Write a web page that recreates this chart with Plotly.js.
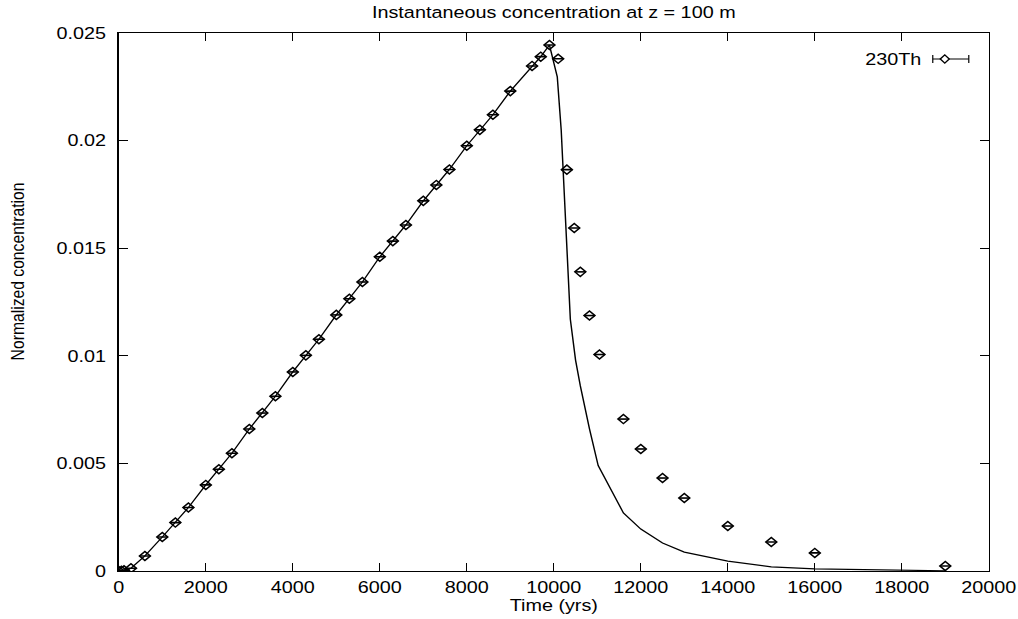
<!DOCTYPE html>
<html>
<head>
<meta charset="utf-8">
<script src="https://cdn.plot.ly/plotly-3.0.1.min.js"></script>
<style>
  html, body { margin: 0; padding: 0; background: #fff; overflow: hidden; }
  #wrap { width: 1018px; height: 619px; overflow: hidden; }
  #plot { width: 848px; height: 619px; transform: scaleX(1.2); transform-origin: 0 0; }
</style>
</head>
<body>
<div id="wrap"><div id="plot"></div></div>
<script>
// Observed (230Th) points: time in years, normalized concentration
const obsTime = [0, 60, 120, 280, 600, 1000, 1300, 1600, 2000, 2300, 2600, 3000, 3300, 3600,
  4000, 4300, 4600, 5000, 5300, 5600, 6000, 6300, 6600, 7000, 7300, 7600, 8000, 8300, 8600,
  9000, 9500, 9700, 9900, 10100, 10300, 10470, 10610, 10820, 11050, 11600, 12000, 12500,
  13000, 14000, 15000, 16000, 19000];
const obsConc = [0, 0.00001, 0.00003, 0.00013, 0.0007, 0.00158, 0.00225, 0.00295, 0.0040,
  0.00473, 0.00547, 0.0066, 0.00734, 0.00812, 0.00925, 0.01002, 0.01077, 0.0119, 0.01265,
  0.01343, 0.0146, 0.01533, 0.01608, 0.0172, 0.01794, 0.01866, 0.01976, 0.0205, 0.0212,
  0.0223, 0.02347, 0.0239, 0.02444, 0.0238, 0.01865, 0.01594, 0.0139, 0.01187, 0.01006,
  0.00706, 0.00567, 0.00432, 0.00339, 0.00209, 0.00135, 0.00084, 0.00023];

// Model curve
const modelTime = [0, 60, 120, 280, 600, 1000, 1300, 1600, 2000, 2300, 2600, 3000, 3300, 3600,
  4000, 4300, 4600, 5000, 5300, 5600, 6000, 6300, 6600, 7000, 7300, 7600, 8000, 8300, 8600,
  9000, 9500, 9700, 9900, 10080, 10170, 10220, 10290, 10380, 10500, 10610, 10820, 11020,
  11600, 12000, 12500, 13000, 14000, 15000, 16000, 19000];
const modelConc = [0, 0.00001, 0.00003, 0.00013, 0.0007, 0.00158, 0.00225, 0.00295, 0.0040,
  0.00473, 0.00547, 0.0066, 0.00734, 0.00812, 0.00925, 0.01002, 0.01077, 0.0119, 0.01265,
  0.01343, 0.0146, 0.01533, 0.01608, 0.0172, 0.01794, 0.01866, 0.01976, 0.0205, 0.0212,
  0.0223, 0.02347, 0.0239, 0.02444, 0.02296, 0.0205, 0.0182, 0.0158, 0.0117, 0.0098,
  0.0086, 0.0066, 0.0049, 0.0027, 0.00195, 0.0013, 0.00088, 0.00046, 0.00019, 0.0001, 0.00001];

const xTicks = [0, 2000, 4000, 6000, 8000, 10000, 12000, 14000, 16000, 18000, 20000];
const xTickText = ['0', '2000', '4000', '6000', '8000', '10000', '12000', '14000', '16000', '18000', '20000'];
const yTicks = [0, 0.005, 0.01, 0.015, 0.02, 0.025];
const yTickText = ['0', '0.005', '0.01', '0.015', '0.02', '0.025'];
const seriesName = '230Th';

const FONT = 'Liberation Sans, Arial, Helvetica, sans-serif';
const FS = 16.5;

const traces = [
  {
    x: modelTime, y: modelConc, type: 'scatter', mode: 'lines',
    line: {color: '#000', width: 1.2}, showlegend: false, hoverinfo: 'skip'
  },
  {
    x: obsTime, y: obsConc, type: 'scatter', mode: 'markers', name: seriesName,
    marker: {symbol: 'diamond-open', size: 7, color: '#000', line: {width: 1.4, color: '#000'}},
    error_x: {type: 'constant', value: 125, width: 0, thickness: 1.6, color: '#000'},
    showlegend: false
  }
];

// legend sample (paper coordinates)
const lx0 = 0.9356, lx1 = 0.977, lxc = 0.9494, ly = 0.9517, capH = 0.0074;
const dX = 0.0052, dY = 0.0078;

const layout = {
  width: 848, height: 619,
  margin: {l: 99, r: 24, t: 33, b: 48},
  paper_bgcolor: '#fff', plot_bgcolor: '#fff',
  font: {family: FONT, size: FS, color: '#000'},
  title: {text: 'Instantaneous concentration at z = 100 m', font: {family: FONT, size: FS, color: '#000'},
          x: 0.5, xref: 'paper', xanchor: 'center', y: 0.981, yref: 'container', yanchor: 'middle'},
  xaxis: {
    range: [0, 20000], tickvals: xTicks, ticktext: xTickText, ticks: 'inside', ticklen: 8, tickwidth: 1, tickcolor: '#000',
    showline: true, linecolor: '#000', linewidth: 1.3, mirror: 'ticks', showgrid: false, zeroline: false,
    tickfont: {family: FONT, size: FS, color: '#000'}, ticklabelstandoff: 1,
    title: {text: 'Time (yrs)', font: {family: FONT, size: FS, color: '#000'}, standoff: 0}
  },
  yaxis: {
    range: [0, 0.025], tickvals: yTicks, ticktext: yTickText, ticks: 'inside', ticklen: 7.5, tickwidth: 1,
    tickcolor: '#000', showline: true, linecolor: '#000', linewidth: 1.3, mirror: 'ticks', showgrid: false,
    zeroline: false, tickfont: {family: FONT, size: FS, color: '#000'}, ticklabelstandoff: 6
  },
  showlegend: false,
  annotations: [
    {
      text: seriesName, xref: 'paper', yref: 'paper', x: 0.926, y: ly, xanchor: 'right', yanchor: 'middle',
      showarrow: false, font: {family: FONT, size: FS, color: '#000'}
    },
    {
      text: 'Normalized concentration', xref: 'paper', yref: 'paper', x: -0.116, y: 0.5567,
      xanchor: 'center', yanchor: 'middle', textangle: -90, showarrow: false,
      font: {family: FONT, size: 15.7, color: '#000'}
    }
  ],
  shapes: [
    {type: 'line', xref: 'paper', yref: 'paper', x0: lx0, x1: lx1, y0: ly, y1: ly, line: {color: '#000', width: 1}},
    {type: 'line', xref: 'paper', yref: 'paper', x0: lx0, x1: lx0, y0: ly - capH, y1: ly + capH, line: {color: '#000', width: 1}},
    {type: 'line', xref: 'paper', yref: 'paper', x0: lx1, x1: lx1, y0: ly - capH, y1: ly + capH, line: {color: '#000', width: 1}},
    {type: 'path', xref: 'paper', yref: 'paper',
     path: `M ${lxc - dX},${ly} L ${lxc},${ly + dY} L ${lxc + dX},${ly} L ${lxc},${ly - dY} Z`,
     fillcolor: '#fff', line: {color: '#000', width: 1.2}}
  ]
};

Plotly.newPlot('plot', traces, layout, {staticPlot: true, displayModeBar: false});
</script>
</body>
</html>
